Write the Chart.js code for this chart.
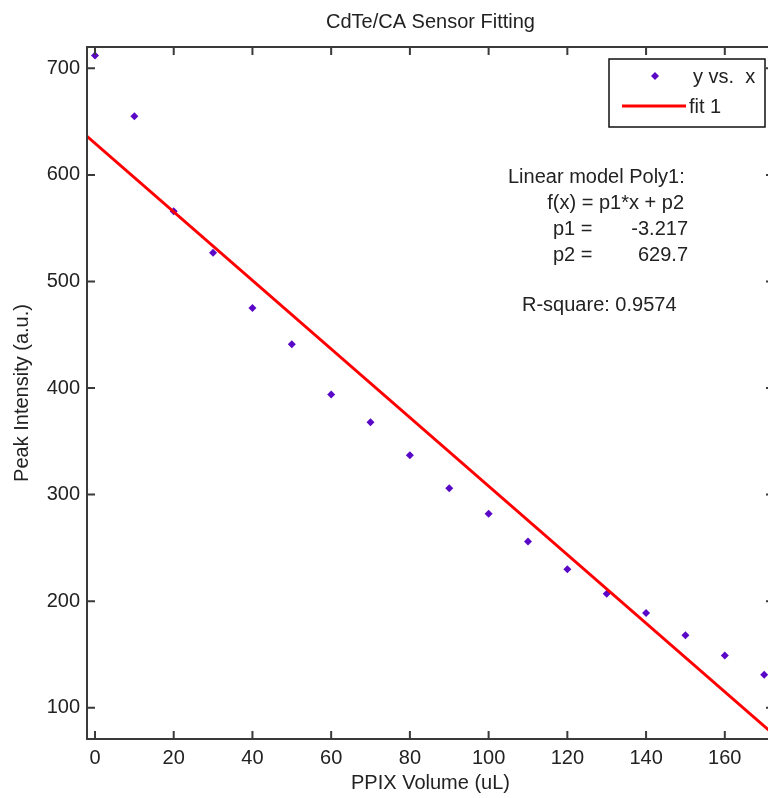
<!DOCTYPE html>
<html>
<head>
<meta charset="utf-8">
<title>CdTe/CA Sensor Fitting</title>
<script src="https://cdn.jsdelivr.net/npm/chart.js@4"></script>
<style>
  html, body { margin: 0; padding: 0; background: #fff; overflow: hidden; }
  #wrap { width: 800px; height: 798px; }
</style>
</head>
<body>
<div id="wrap"><canvas id="theChart" width="800" height="798"></canvas></div>
<script>
// measured PPIX volumes and peak intensities
let volumes = [0, 10, 20, 30, 40, 50, 60, 70, 80, 90, 100, 110, 120, 130, 140, 150, 160, 170];
let intensities = [712, 655, 566, 527, 475, 441, 394, 368, 337, 306, 282, 256, 230, 207, 189, 168, 149, 131];

// poly1 fit results
let p1 = -3.217;
let p2 = 629.7;
let rSquare = 0.9574;

let xTicks = [0, 20, 40, 60, 80, 100, 120, 140, 160];
let yTicks = [100, 200, 300, 400, 500, 600, 700];

let xMin = -2.03, xMax = 172.5;
let yMin = 70.7, yMax = 720;

let fitX = [xMin, xMax];
let fitPoints = fitX.map(x => ({ x: x, y: p1 * x + p2 }));
let dataPoints = volumes.map((v, i) => ({ x: v, y: intensities[i] }));

let axisColor = '#3a3a3a';
let textColor = '#222';
let fontFamily = '"Liberation Sans", Arial, Helvetica, sans-serif';
let pointColor = '#5a08c8';

// box, inner ticks, title, legend and fit summary, drawn MATLAB style
let matlabAxes = {
    id: 'matlabAxes',
    afterDraw(chart) {
        let ctx = chart.ctx;
        let a = chart.chartArea;
        let xs = chart.scales.x;
        let ys = chart.scales.y;
        ctx.save();

        ctx.strokeStyle = axisColor;
        ctx.lineWidth = 2;
        ctx.strokeRect(a.left, a.top, a.right - a.left, a.bottom - a.top);
        ctx.beginPath();
        xs.ticks.forEach(t => {
            let px = xs.getPixelForValue(t.value);
            ctx.moveTo(px, a.bottom); ctx.lineTo(px, a.bottom - 8);
            ctx.moveTo(px, a.top); ctx.lineTo(px, a.top + 8);
        });
        ys.ticks.forEach(t => {
            let py = ys.getPixelForValue(t.value);
            ctx.moveTo(a.left, py); ctx.lineTo(a.left + 8, py);
            ctx.moveTo(a.right, py); ctx.lineTo(a.right - 8, py);
        });
        ctx.stroke();

        ctx.fillStyle = textColor;
        ctx.font = '20px ' + fontFamily;
        ctx.textBaseline = 'middle';
        ctx.textAlign = 'center';
        ctx.fillText('CdTe/CA Sensor Fitting', (a.left + a.right) / 2, 22);

        // legend
        let scatterSet = chart.data.datasets[1];
        let fitSet = chart.data.datasets[0];
        ctx.fillStyle = '#fff';
        ctx.fillRect(609, 59, 156, 68);
        ctx.strokeStyle = '#111';
        ctx.lineWidth = 1.5;
        ctx.strokeRect(609, 59, 156, 68);

        ctx.fillStyle = pointColor;
        ctx.beginPath();
        ctx.moveTo(655, 72); ctx.lineTo(659, 76); ctx.lineTo(655, 80); ctx.lineTo(651, 76);
        ctx.closePath();
        ctx.fill();

        ctx.strokeStyle = fitSet.borderColor;
        ctx.lineWidth = 3;
        ctx.beginPath();
        ctx.moveTo(622, 106); ctx.lineTo(686, 106);
        ctx.stroke();

        ctx.fillStyle = textColor;
        ctx.textAlign = 'left';
        ctx.fillText(scatterSet.label, 693, 77);
        ctx.fillText(fitSet.label, 689, 107);

        // fit summary
        ctx.fillText('Linear model Poly1:', 508, 177);
        ctx.textAlign = 'right';
        ctx.fillText('f(x) = p1*x + p2', 684, 203);
        ctx.fillText(p1.toFixed(3), 688, 229);
        ctx.fillText(p2.toFixed(1), 688, 255);
        ctx.textAlign = 'left';
        ctx.fillText('p1 =', 553, 229);
        ctx.fillText('p2 =', 553, 255);
        ctx.fillText('R-square: ' + rSquare, 522, 305);

        ctx.restore();
    }
};

let ctx = document.getElementById('theChart').getContext('2d');
let theChart = new Chart(ctx, {
    type: 'scatter',
    data: {
        datasets: [{
            type: 'line',
            label: 'fit 1',
            data: fitPoints,
            borderColor: '#ff0000',
            borderWidth: 3,
            pointRadius: 0,
            fill: false,
            order: 0
        }, {
            label: 'y vs.  x',
            data: dataPoints,
            pointStyle: 'rectRot',
            pointRadius: 4,
            pointHoverRadius: 4,
            backgroundColor: pointColor,
            borderColor: pointColor,
            borderWidth: 0,
            order: 1
        }]
    },
    options: {
        responsive: false,
        animation: false,
        events: [],
        layout: { padding: { top: 47, right: 26, left: 0, bottom: 0 } },
        plugins: {
            legend: { display: false },
            title: { display: false },
            tooltip: { enabled: false }
        },
        scales: {
            x: {
                type: 'linear',
                min: xMin,
                max: xMax,
                afterFit: scale => { scale.height = 59; },
                afterBuildTicks: scale => { scale.ticks = xTicks.map(v => ({ value: v })); },
                grid: { display: false, drawTicks: false },
                border: { display: false },
                ticks: {
                    color: textColor,
                    padding: 7,
                    maxRotation: 0,
                    font: { family: fontFamily, size: 20 }
                },
                title: {
                    display: true,
                    text: 'PPIX Volume (uL)',
                    color: textColor,
                    padding: { top: 0, bottom: 3 },
                    font: { family: fontFamily, size: 20 }
                }
            },
            y: {
                type: 'linear',
                min: yMin,
                max: yMax,
                afterFit: scale => { scale.width = 87; },
                afterBuildTicks: scale => { scale.ticks = yTicks.map(v => ({ value: v })); },
                grid: { display: false, drawTicks: false },
                border: { display: false },
                ticks: {
                    color: textColor,
                    padding: 7,
                    font: { family: fontFamily, size: 20 }
                },
                title: {
                    display: true,
                    text: 'Peak Intensity (a.u.)',
                    color: textColor,
                    padding: { top: 10, bottom: 0 },
                    font: { family: fontFamily, size: 20 }
                }
            }
        }
    },
    plugins: [matlabAxes]
});
</script>
</body>
</html>
